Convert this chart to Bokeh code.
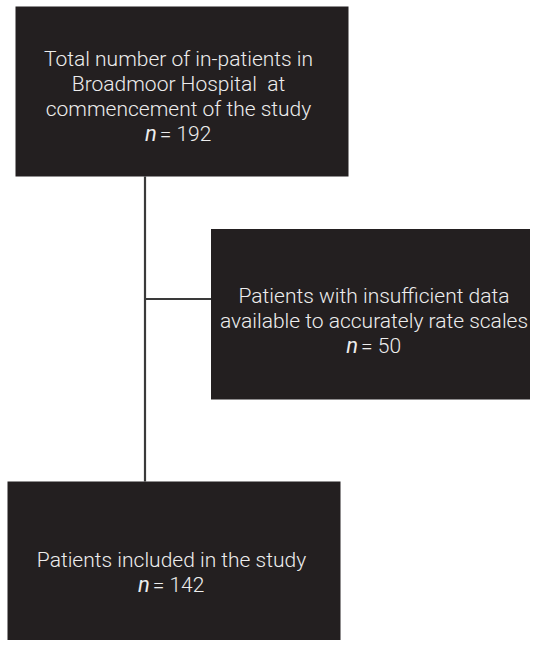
from bokeh.plotting import figure
from bokeh.models import Range1d
from bokeh.core.properties import value
from bokeh.embed import file_html
from bokeh.resources import INLINE

# ---- data ----
box_lines = [
    ["Total number of in-patients in", "Broadmoor Hospital\u00a0 at", "commencement of the study"],
    ["Patients with insufficient data", "available to accurately rate scales"],
    ["Patients included in the study"],
]
box_n = [192, 50, 142]

# ---- layout (picture pixel coordinates) ----
box_left = [15, 210.5, 7]
box_right = [348, 540, 340]
box_top = [6, 228.5, 481]
box_bottom = [176, 399, 655]
text_center = [178, 373.5, 171]
first_baseline = [58, 295, 559]
line_step = 25.0
FS = 21
FONT = "Roboto Light"
BOX_COLOR = "#231f20"
TEXT_COLOR = "#ededed"
LINE_COLOR = "#3a3a3a"

W, H = 530, 640
p = figure(width=W, height=H, output_backend="svg", toolbar_location=None,
           x_range=Range1d(0, W), y_range=Range1d(H, 0),
           min_border=0, background_fill_color="white")
p.axis.visible = False
p.grid.visible = False
p.outline_line_color = None

# connectors
trunk_x = 144.5
p.segment(x0=[trunk_x], y0=[box_bottom[0]], x1=[trunk_x], y1=[box_top[2]],
          line_color=LINE_COLOR, line_width=2.2)
branch_y = 298.5
p.segment(x0=[trunk_x], y0=[branch_y], x1=[box_left[1]], y1=[branch_y],
          line_color=LINE_COLOR, line_width=2.2)

# boxes
p.quad(left=box_left, right=box_right, top=box_top, bottom=box_bottom,
       fill_color=BOX_COLOR, line_color=None)

# text
tx, ty, tt = [], [], []
nx, ny, rx, ry, rt = [], [], [], [], []
for i, lines in enumerate(box_lines):
    cx = text_center[i]
    for j, s in enumerate(lines):
        tx.append(cx)
        ty.append(first_baseline[i] + j * line_step)
        tt.append(s)
    yb = first_baseline[i] + len(lines) * line_step
    rest = "= " + str(box_n[i])
    w_n = 0.55 * FS
    w_rest = (0.58 + 0.25 + 0.55 * len(str(box_n[i]))) * FS
    gap = 3
    start = cx - (w_n + gap + w_rest) / 2.0
    nx.append(start + w_n)
    ny.append(yb)
    rx.append(start + w_n + gap)
    ry.append(yb)
    rt.append(rest)

p.text(x=tx, y=ty, text=tt, text_align="center", text_baseline="alphabetic",
       text_color=TEXT_COLOR, text_font=value(FONT), text_font_size=f"{FS}px")
p.text(x=nx, y=ny, text=["n"] * len(nx), text_align="right", text_baseline="alphabetic",
       text_color=TEXT_COLOR, text_font=value("Roboto"), text_font_style="italic",
       text_font_size=f"{FS+1}px")
p.text(x=rx, y=ry, text=rt, text_align="left", text_baseline="alphabetic",
       text_color=TEXT_COLOR, text_font=value(FONT), text_font_size=f"{FS}px")

open("out.html", "w").write(file_html(p, INLINE))
